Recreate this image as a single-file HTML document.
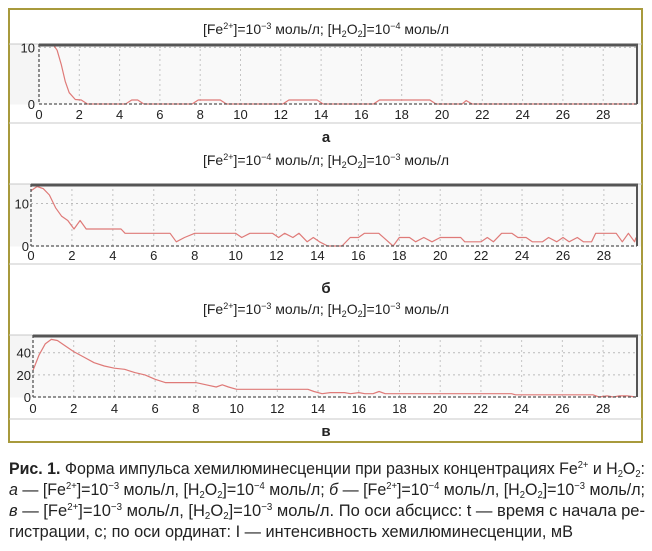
<!DOCTYPE html>
<html><head><meta charset="utf-8"><style>
body{margin:0;background:#fff}
svg{display:block;font-family:"Liberation Sans",sans-serif}
</style></head><body>
<svg id="s" width="652" height="551" viewBox="0 0 652 551" xmlns="http://www.w3.org/2000/svg">
<rect x="9" y="9" width="633" height="433" fill="#fff" stroke="#a89a3c" stroke-width="2"/>
<g id="rows"></g>
<g id="plots"></g>
<g font-size="14" fill="#222" text-anchor="middle">
<text x="326" y="34">[Fe<tspan font-size="9" dy="-5">2+</tspan><tspan dy="5">]=10</tspan><tspan font-size="9" dy="-5">−3</tspan><tspan dy="5"> моль/л; [H</tspan><tspan font-size="9" dy="3">2</tspan><tspan dy="-3">O</tspan><tspan font-size="9" dy="3">2</tspan><tspan dy="-3">]=10</tspan><tspan font-size="9" dy="-5">−4</tspan><tspan dy="5"> моль/л</tspan></text>
<text x="326" y="142" font-size="15" font-weight="bold">а</text>
<text x="326" y="165">[Fe<tspan font-size="9" dy="-5">2+</tspan><tspan dy="5">]=10</tspan><tspan font-size="9" dy="-5">−4</tspan><tspan dy="5"> моль/л; [H</tspan><tspan font-size="9" dy="3">2</tspan><tspan dy="-3">O</tspan><tspan font-size="9" dy="3">2</tspan><tspan dy="-3">]=10</tspan><tspan font-size="9" dy="-5">−3</tspan><tspan dy="5"> моль/л</tspan></text>
<text x="326" y="293" font-size="15" font-weight="bold">б</text>
<text x="326" y="314">[Fe<tspan font-size="9" dy="-5">2+</tspan><tspan dy="5">]=10</tspan><tspan font-size="9" dy="-5">−3</tspan><tspan dy="5"> моль/л; [H</tspan><tspan font-size="9" dy="3">2</tspan><tspan dy="-3">O</tspan><tspan font-size="9" dy="3">2</tspan><tspan dy="-3">]=10</tspan><tspan font-size="9" dy="-5">−3</tspan><tspan dy="5"> моль/л</tspan></text>
<text x="326" y="436" font-size="15" font-weight="bold">в</text>
</g>
<g font-size="17" fill="#222">
<text x="9" y="474" textLength="636" lengthAdjust="spacingAndGlyphs"><tspan font-weight="bold">Рис. 1.</tspan> Форма импульса хемилюминесценции при разных концентрациях Fe<tspan font-size="10" dy="-6">2+</tspan><tspan dy="6"> и H</tspan><tspan font-size="10" dy="3">2</tspan><tspan dy="-3">O</tspan><tspan font-size="10" dy="3">2</tspan><tspan dy="-3">:</tspan></text>
<text x="9" y="495" textLength="636" lengthAdjust="spacingAndGlyphs"><tspan font-style="italic">а</tspan> — [Fe<tspan font-size="10" dy="-6">2+</tspan><tspan dy="6">]=10</tspan><tspan font-size="10" dy="-6">−3</tspan><tspan dy="6"> моль/л, [H</tspan><tspan font-size="10" dy="3">2</tspan><tspan dy="-3">O</tspan><tspan font-size="10" dy="3">2</tspan><tspan dy="-3">]=10</tspan><tspan font-size="10" dy="-6">−4</tspan><tspan dy="6"> моль/л; </tspan><tspan font-style="italic">б</tspan> — [Fe<tspan font-size="10" dy="-6">2+</tspan><tspan dy="6">]=10</tspan><tspan font-size="10" dy="-6">−4</tspan><tspan dy="6"> моль/л, [H</tspan><tspan font-size="10" dy="3">2</tspan><tspan dy="-3">O</tspan><tspan font-size="10" dy="3">2</tspan><tspan dy="-3">]=10</tspan><tspan font-size="10" dy="-6">−3</tspan><tspan dy="6"> моль/л;</tspan></text>
<text x="9" y="516" textLength="636" lengthAdjust="spacingAndGlyphs"><tspan font-style="italic">в</tspan> — [Fe<tspan font-size="10" dy="-6">2+</tspan><tspan dy="6">]=10</tspan><tspan font-size="10" dy="-6">−3</tspan><tspan dy="6"> моль/л, [H</tspan><tspan font-size="10" dy="3">2</tspan><tspan dy="-3">O</tspan><tspan font-size="10" dy="3">2</tspan><tspan dy="-3">]=10</tspan><tspan font-size="10" dy="-6">−3</tspan><tspan dy="6"> моль/л. По оси абсцисс: t — время с начала ре-</tspan></text>
<text x="9" y="537" textLength="564" lengthAdjust="spacingAndGlyphs">гистрации, с; по оси ординат: I — интенсивность хемилюминесценции, мВ</text>
</g>
</svg>
<script>
const ticksX = [0,2,4,6,8,10,12,14,16,18,20,22,24,26,28];
const aTime = [0,0.7,0.9,1.1,1.3,1.5,1.8,2.1,2.4,4.3,4.6,4.9,5.2,7.6,7.9,9,9.3,12.1,12.4,13.8,14.1,16.6,16.9,19.4,19.7,21,21.2,21.5,29.8];
const aValue = [10.5,10.5,9.5,7,4,2,0.8,0.7,0,0,0.7,0.7,0,0,0.7,0.7,0,0,0.7,0.7,0,0,0.7,0.7,0,0,0.6,0,0];
const aTicksY = [0,10];
const bTime = [0,0.3,0.6,0.9,1.2,1.5,1.8,2.1,2.4,2.7,4.4,4.6,6.8,7.1,7.5,8,10,10.3,10.7,11.8,12.1,12.4,12.8,13.1,13.5,13.8,14.1,14.5,15.2,15.6,16,16.3,17,17.7,18,18.5,18.8,19.2,19.6,20,21,21.2,22,22.3,22.6,23,23.5,23.8,24.2,24.5,25,25.3,25.7,26,26.3,26.7,27,27.4,27.6,28.6,28.9,29.2,29.5,29.8];
const bValue = [13,14,13.5,12,9,7,6,4,6,4,4,3,3,1,2,3,3,2,3,3,2,3,2,3,1,2,1,0,0,2,2,3,3,0,2,2,1,2,1,2,2,1,1,2,1,3,3,2,2,1,1,2,1,2,1,2,1,1,3,3,1,3,1,2];
const bTicksY = [0,10];
const cTime = [0,0.3,0.6,0.9,1.2,1.6,2,2.5,3,3.5,4,4.5,5,5.5,6,6.5,7,8,8.5,9,9.3,9.6,10,13.5,13.8,14.2,14.6,15.3,15.6,16,16.3,16.7,17,17.3,23.5,23.7,27,27.5,27.8,28.2,28.5,28.8,29.2,29.6];
const cValue = [24,38,48,52,51,46,41,36,31,28,26,25,22,20,16,13,13,13,11,9,11,9,7,7,5,3,4,4,3,4,3,3,5,3,3,2,2,2,0,1,0,1,1,0];
const cTicksY = [0,20,40];

const NS="http://www.w3.org/2000/svg";
const plots=document.getElementById('plots');
const rows=document.getElementById('rows');
function mk(tag,attrs,parent){const e=document.createElementNS(NS,tag);for(const k in attrs)e.setAttribute(k,attrs[k]);parent.appendChild(e);return e;}

[44,123,184,264,335,419].forEach(y=>{
  const l=mk('line',{x1:9,x2:642,y1:y,y2:y,stroke:'#c8c8c8','stroke-width':1},rows);
  
  
});

const panels=[
 {id:'a',x0:39,x1:637,top:44,bot:104,ppu:20.15,ymax:10.5,yTop:44.5,sepBot:123,time:aTime,val:aValue,ty:aTicksY,labelX:35,tickY:119},
 {id:'b',x0:31,x1:637,top:184,bot:246,ppu:20.46,ymax:14.6,yTop:184,sepBot:264,time:bTime,val:bValue,ty:bTicksY,labelX:29,tickY:260},
 {id:'c',x0:33,x1:637,top:335,bot:397,ppu:20.36,ymax:56,yTop:335,sepBot:419,time:cTime,val:cValue,ty:cTicksY,labelX:31,tickY:413}
];
panels.forEach(p=>{
  const g=mk('g',{},plots);
  
  
  const sx=t=>Math.min(p.x0+t*p.ppu,p.x1-1);
  const sy=v=>p.bot-(v/p.ymax)*(p.bot-p.yTop);
  const bg=mk('rect',{x:10,y:p.top+0.5,width:631,height:p.bot-p.top,fill:'#f5f5f5'},g);
  
  
  const pa=mk('rect',{x:p.x0,y:p.top+1,width:p.x1-p.x0,height:p.bot-p.top-1,fill:'#f9f9f9'},g);
  
  
  ticksX.forEach(t=>{
    const l=mk('line',{x1:sx(t),x2:sx(t),y1:p.top,y2:p.bot,stroke:'#c4c4c4','stroke-dasharray':'2,3','stroke-width':1},g);
    
    
    const tx=mk('text',{x:sx(t),y:p.tickY,'font-size':13,'text-anchor':'middle',fill:'#222'},g);
    
    
    tx.textContent=t;
  });
  p.ty.forEach(v=>{
    if(v>0){const l=mk('line',{x1:p.x0,x2:p.x1,y1:sy(v),y2:sy(v),stroke:'#bbb','stroke-dasharray':'2,3','stroke-width':1},g);
    
    }
    const tx=mk('text',{x:p.labelX,y:sy(v)+5,'font-size':13,'text-anchor':'end',fill:'#222'},g);
    
    
    tx.textContent=v;
  });
  const pts=p.time.map((t,i)=>sx(t).toFixed(1)+','+sy(p.val[i]).toFixed(1)).join(' ');
  const line=mk('polyline',{points:pts,fill:'none',stroke:'#df7a78','stroke-width':1.2,'stroke-linejoin':'round'},g);
  
  
  const xa=mk('line',{x1:p.x0,x2:p.x1,y1:p.bot,y2:p.bot,stroke:'#555','stroke-dasharray':'3,2','stroke-width':1.3},g);
  
  
  const ya=mk('line',{x1:p.x0,x2:p.x0,y1:p.top,y2:p.bot,stroke:'#555','stroke-dasharray':'3,2','stroke-width':1.3},g);
  
  
  const tp=mk('line',{x1:p.x0,x2:p.x1+1,y1:p.top+1,y2:p.top+1,stroke:'#555','stroke-width':3},g);
  
  
  const rt=mk('line',{x1:p.x1,x2:p.x1,y1:p.top,y2:p.bot,stroke:'#555','stroke-width':2},g);
  
  
});
</script>
</body></html>
